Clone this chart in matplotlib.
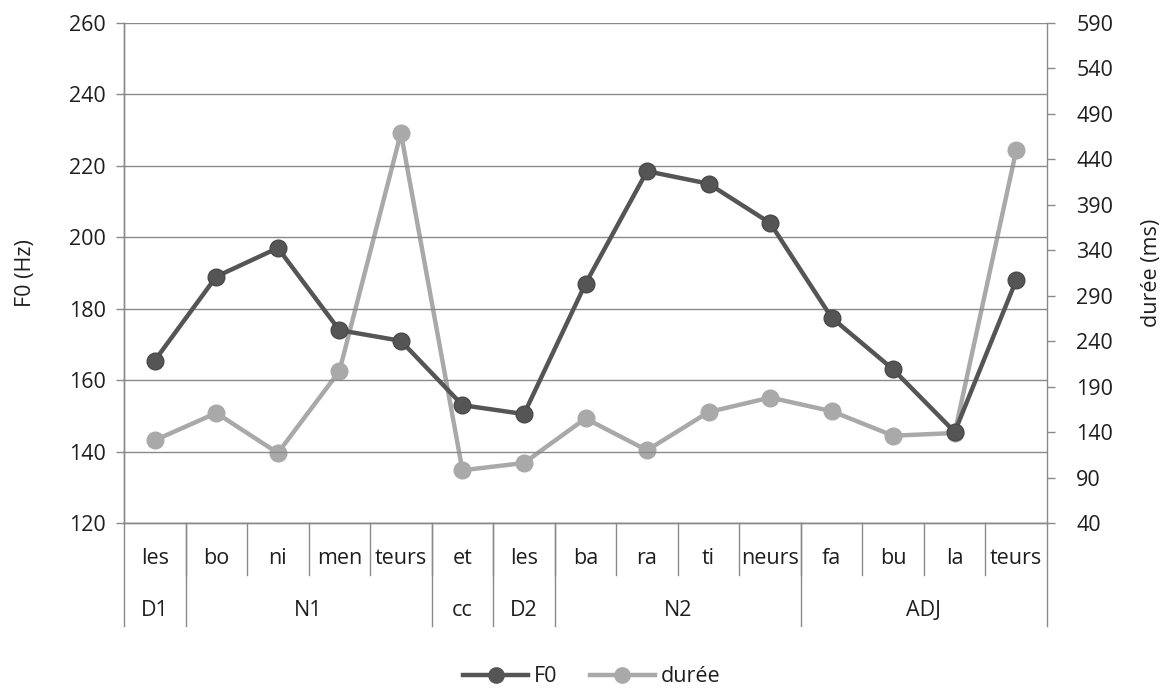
import matplotlib
matplotlib.use("Agg")
import matplotlib.pyplot as plt
import matplotlib.transforms as mtransforms
from matplotlib.lines import Line2D

plt.rcParams['font.family'] = ['Open Sans', 'DejaVu Sans']

syllables = ["les", "bo", "ni", "men", "teurs", "et", "les", "ba", "ra", "ti",
             "neurs", "fa", "bu", "la", "teurs"]
groups = ["D1", "N1", "cc", "D2", "N2", "ADJ"]
group_sizes = [1, 4, 1, 1, 4, 4]

f0_hz = [165.5, 189, 197, 174, 171, 153, 150.5, 187, 218.5, 215, 204,
         177.5, 163, 145.5, 188]
duree_ms = [131, 161, 117, 207, 469, 98, 106, 155, 120, 162, 178,
            163, 136, 139, 450]

f0_ticks = list(range(120, 261, 20))
duree_ticks = list(range(40, 591, 50))

dark = "#555555"
light = "#a9a9a9"
grid_col = "#8a8a8a"
text_col = "#1f1f1f"
fs = 15.5

fig = plt.figure(figsize=(11.71, 6.89), dpi=100)
ax = fig.add_axes([124 / 1171, 166 / 689, 923 / 1171, 500 / 689])
ax2 = ax.twinx()

x = list(range(len(syllables)))

ax.set_xlim(-0.5, len(syllables) - 0.5)
ax.set_ylim(f0_ticks[0], f0_ticks[-1])
ax.set_yticks(f0_ticks)
ax.yaxis.grid(True, color=grid_col, linewidth=1.0)
ax.set_axisbelow(True)
ax.set_xticks([])
ax2.set_ylim(duree_ticks[0], duree_ticks[-1])
ax2.set_yticks(duree_ticks)

for a in (ax, ax2):
    for s in a.spines.values():
        s.set_color(grid_col)
        s.set_linewidth(1.0)
    a.spines['top'].set_visible(False)
    a.tick_params(axis='y', colors=grid_col, labelcolor=text_col,
                  labelsize=fs, length=6, width=1.0, direction='out')
ax.tick_params(axis='y', pad=7)
ax2.tick_params(axis='y', pad=15)
ax.spines['right'].set_visible(False)

# Extend the side spines down through the category table
trans = mtransforms.blended_transform_factory(ax.transData, ax.transAxes)
row1_bottom = -0.104
row2_bottom = -0.206
ax.plot([-0.5, -0.5], [0, row2_bottom], color=grid_col, lw=1.0,
        transform=trans, clip_on=False)
ax.plot([len(x) - 0.5] * 2, [0, row2_bottom], color=grid_col, lw=1.0,
        transform=trans, clip_on=False)

# Syllable row separators
for k in range(1, len(syllables)):
    ax.plot([k - 0.5, k - 0.5], [0, row1_bottom], color=grid_col, lw=1.0,
            transform=trans, clip_on=False)

# Group separators and labels
start = 0
for g, n in zip(groups, group_sizes):
    end = start + n
    if end < len(syllables):
        ax.plot([end - 0.5, end - 0.5], [0, row2_bottom], color=grid_col,
                lw=1.0, transform=trans, clip_on=False)
    ax.text((start + end - 1) / 2, -0.176, g, transform=trans, ha='center',
            va='center', fontsize=fs, color=text_col)
    start = end

for xi, s in zip(x, syllables):
    ax.text(xi, -0.072, s, transform=trans, ha='center', va='center',
            fontsize=fs, color=text_col)

ax2.plot(x, duree_ms, color=light, lw=3.2, marker='o', markersize=12,
         markerfacecolor=light, markeredgecolor=light, zorder=3)
ax.plot(x, f0_hz, color=dark, lw=3.2, marker='o', markersize=12,
        markerfacecolor=dark, markeredgecolor="#4a4a4a", zorder=4)
ax.set_zorder(ax2.get_zorder() + 1)
ax.patch.set_visible(False)

ax.set_ylabel("F0 (Hz)", fontsize=fs, color=text_col, labelpad=24)
ax2.set_ylabel("durée (ms)", fontsize=fs, color=text_col, labelpad=20)

handles = [Line2D([], [], color=dark, lw=3.2, marker='o', markersize=11),
           Line2D([], [], color=light, lw=3.2, marker='o', markersize=11)]
fig.legend(handles, ["F0", "durée"], loc='center', bbox_to_anchor=(592 / 1171, 1 - 677 / 689),
           ncol=2, frameon=False, fontsize=fs, handlelength=3.0,
           handletextpad=0.3, columnspacing=1.5, labelcolor=text_col)

fig.savefig("out.png", dpi=100, facecolor="white")
